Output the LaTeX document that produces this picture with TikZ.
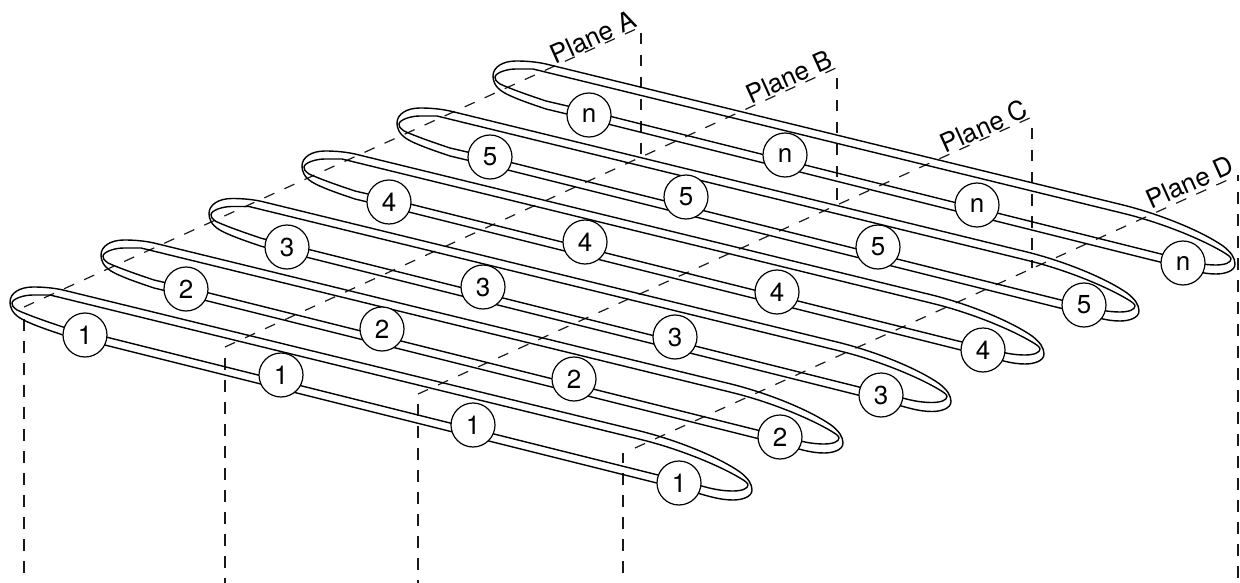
\documentclass[tikz,border=0pt]{standalone}
\usepackage{fontspec}
\setmainfont{TeX Gyre Heros}
\definecolor{dashc}{gray}{0.1}
\tikzset{
  strand/.style={line width=1.4pt,draw=black,line join=round},
  planeline/.style={line width=1.2pt,draw=dashc,dash pattern=on 11pt off 11pt},
  vline/.style={line width=1.2pt,draw=dashc,dash pattern=on 11.5pt off 10.5pt},
  num/.style={circle,draw=black,fill=white,line width=1.2pt,minimum size=44pt,inner sep=0pt,font=\fontsize{26}{26}\selectfont},
  plabel/.style={rotate=24.3,font=\fontsize{26}{26}\selectfont,inner sep=0pt}
}
% one loop, placed by its offset
\newcommand{\oneloop}[1]{%
  \begin{scope}[shift={#1}]
    \draw[strand] (63,335) .. controls (45,329) and (28,323) .. (20,318)
      .. controls (12,313) and (10,307) .. (10,302)
      .. controls (10,293) and (20,287) .. (33,287)
      .. controls (44,287) and (54,288) .. (63,290)
      -- (640,431) .. controls (680,441) and (720,458) .. (740,472)
      .. controls (748,478) and (752,484) .. (752,490)
      .. controls (752,497) and (742,500) .. (733,500)
      .. controls (720,500) and (708,496) .. (697,493)
      -- (658,483.3) -- (106,345.3) -- cycle;
    \draw[strand] (63,327) .. controls (45,321) and (28,315) .. (17,310)
      .. controls (13,307) and (11.5,305) .. (12,303)
      .. controls (12.5,299) and (23,295) .. (33,295)
      .. controls (39,295) and (45,295) .. (50,295)
      -- (640,439.3) .. controls (680,449) and (720,466) .. (740,478)
      .. controls (745,481) and (748,483) .. (748,485)
      .. controls (748,488.5) and (742,491) .. (733,491)
      .. controls (722,491) and (712,489) .. (700,485.5)
      -- (658,475) -- (108,337.5) -- cycle;
  \end{scope}}
\newcommand{\rownodes}[3]{%
  \begin{scope}[shift={#1}]
    \node[num] (#2a) at (85,335) {#3};
    \node[num] (#2b) at (281,375) {#3};
    \node[num] (#2c) at (473,425) {#3};
    \node[num] (#2d) at (679,483) {#3};
  \end{scope}}
\begin{document}
\begin{tikzpicture}[x=1pt,y=-1pt]
\useasboundingbox (0,0) rectangle (1240,583);
% plane corner points
\coordinate (a1) at (24,583); \coordinate (a2) at (24,319);
\coordinate (a3) at (24,307); \coordinate (a4) at (635,29.5);
\coordinate (a5) at (641,33); \coordinate (a6) at (641,155);
\coordinate (b1) at (225,358); \coordinate (b2) at (225,583);
\coordinate (b3) at (225,347); \coordinate (b4) at (836,68);
\coordinate (b5) at (837,78); \coordinate (b6) at (837,200);
\coordinate (c1) at (418,404); \coordinate (c2) at (418,583);
\coordinate (c3) at (418,394); \coordinate (c4) at (1032,117);
\coordinate (c5) at (1032,128); \coordinate (c6) at (1032,268);
\coordinate (d1) at (623,453); \coordinate (d2) at (623,583);
\coordinate (d3) at (635,448); \coordinate (d4) at (1232,178);
\coordinate (d5) at (1238,175); \coordinate (d6) at (1238,583);
\draw[vline] (a2) -- (a1);
\draw[vline] (b1) -- (b2);
\draw[vline] (c1) -- (c2);
\draw[vline,dash phase=2pt] (d1) -- (d2);
\foreach \p in {a,b,c,d}{
  \draw[planeline] (\p3) -- (\p4);
}
\draw[vline] (a5) -- (a6);
\draw[vline] (b5) -- (b6);
\draw[vline] (c5) -- (c6);
\draw[vline,dash phase=5pt] (d5) -- (d6);
\oneloop{(0,0)}
\oneloop{(91,-47)}
\oneloop{(199,-88.5)}
\oneloop{(292,-136)}
\oneloop{(387,-179)}
\oneloop{(483,-226)}
\rownodes{(0,0)}{r}{1}
\rownodes{(101,-46)}{s}{2}
\rownodes{(202,-88)}{t}{3}
\rownodes{(304,-133)}{u}{4}
\rownodes{(405,-178)}{v}{5}
\rownodes{(504,-220)}{w}{n}
\node[plabel] (la) at (593,37) {Plane A};
\node[plabel] (lb) at (789,77) {Plane B};
\node[plabel] (lc) at (984,126) {Plane C};
\node[plabel] (ld) at (1190,182) {Plane D};
\end{tikzpicture}
\end{document}
